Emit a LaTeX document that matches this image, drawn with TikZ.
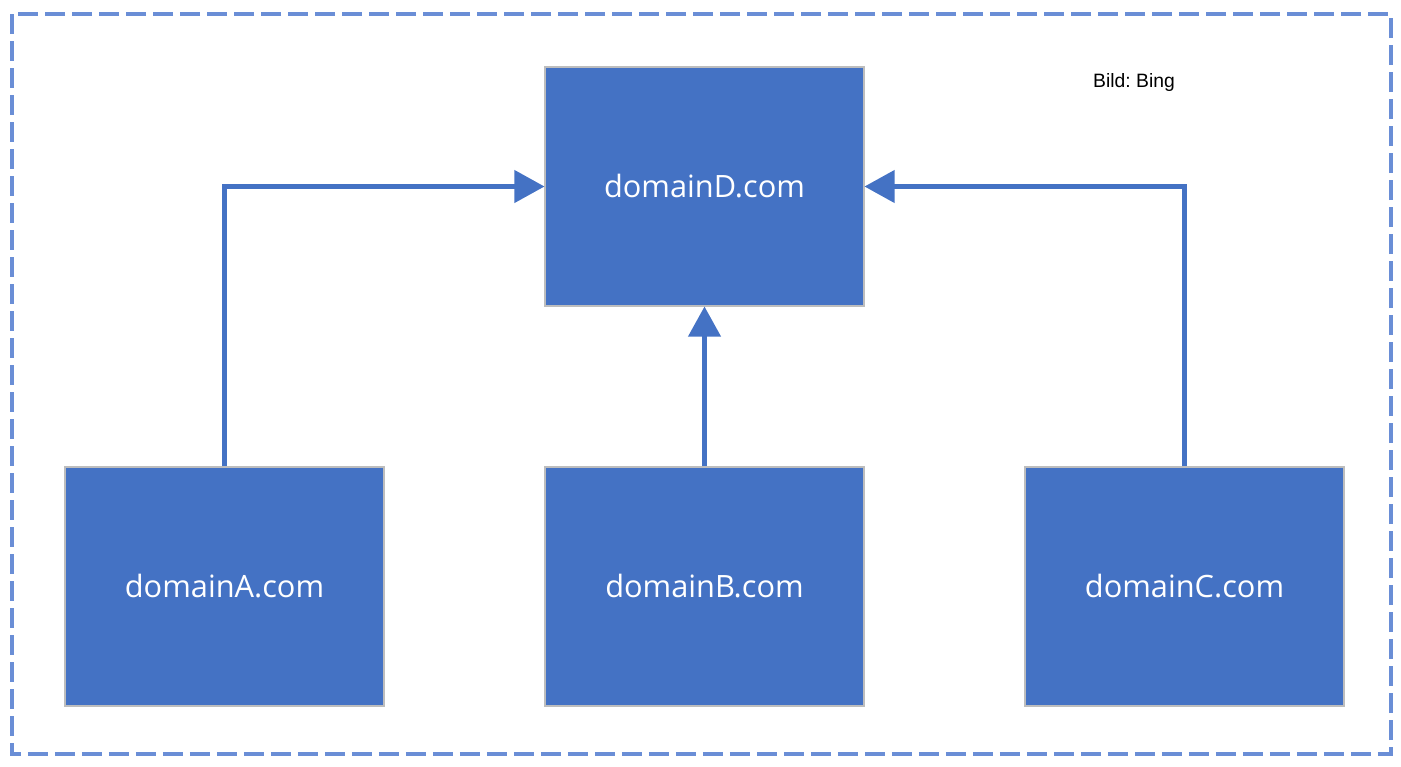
\documentclass[tikz,border=0pt]{standalone}
\usepackage{fontspec}
\setmainfont{Open Sans}
\newfontfamily\arialfont{Liberation Sans}
\usetikzlibrary{arrows.meta,positioning}
\definecolor{boxblue}{HTML}{4472C4}
\definecolor{frameblue}{HTML}{6A8ED6}
\definecolor{rimgrey}{HTML}{BDBDBD}
\frenchspacing
\begin{document}
\begin{tikzpicture}[
  dom/.style={draw=rimgrey,line width=0.6pt,fill=boxblue,minimum width=6.38cm,minimum height=4.78cm,
    text=white,font=\fontsize{17.5}{20}\selectfont,inner sep=0pt},
  frm/.style={draw=frameblue,line width=1.8pt,dash pattern=on 0.4cm off 0.14cm},
  a/.style={-{Triangle[length=6mm,width=6.4mm]},boxblue,line width=2.3pt}]

\useasboundingbox (0,0) rectangle (28.02,-15.32);
\draw[frm] (0.24,-0.28) rectangle (27.82,-15.08);

\node[dom] (domD) at (14.09,-3.73)  {domainD.com};
\node[dom] (domA) at (4.49,-11.73)  {domainA.com};
\node[dom] (domB) at (14.09,-11.73) {domainB.com};
\node[dom] (domC) at (23.69,-11.73) {domainC.com};

\draw[a] (domA.north) |- (domD.west);
\draw[a] (domB) -- (domD);
\draw[a] (domC.north) |- (domD.east);

\node[font=\arialfont\fontsize{11}{13}\selectfont] (src) at (22.68,-1.64) {Bild: Bing};
\end{tikzpicture}
\end{document}
